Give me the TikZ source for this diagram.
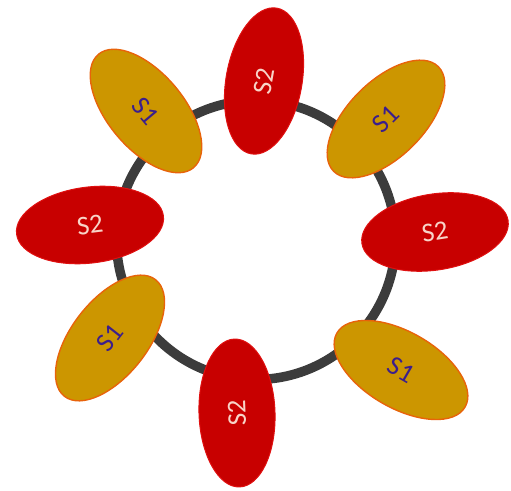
\documentclass[tikz,border=0pt]{standalone}
\usepackage{fontspec}
\setmainfont{Carlito}
\usetikzlibrary{shapes.geometric}
\definecolor{sonefill}{HTML}{CC9600}
\definecolor{sonedraw}{HTML}{E8630A}
\definecolor{sonetext}{HTML}{3B1E8C}
\definecolor{stwofill}{HTML}{C80000}
\definecolor{stwodraw}{HTML}{E01010}
\definecolor{stwotext}{HTML}{F8D4C8}
\definecolor{ringcol}{HTML}{3C3C3C}
\tikzset{
  blob/.style={ellipse, inner sep=0pt, minimum width=148pt, minimum height=76pt,
    font=\fontsize{27}{29}\selectfont},
  sone/.style={blob, fill=sonefill, draw=sonedraw, line width=1.4pt, text=sonetext},
  stwo/.style={blob, fill=stwofill, draw=stwodraw, line width=1pt, text=stwotext},
  ringstyle/.style={circle, draw=ringcol, line width=9.5pt, minimum size=279pt, inner sep=0pt}
}
\begin{document}
\begin{tikzpicture}[x=1pt,y=1pt]
\useasboundingbox (0,0) rectangle (511,490);
\node[ringstyle] (ring) at (256,250) {};
\node[sone, rotate=-50] (tl) at (146,379) {S1};
\node[stwo, rotate=80] (top) at (264,409) {S2};
\node[sone, rotate=45] (tr) at (386,371) {S1};
\node[stwo, rotate=7] (left) at (90,265) {S2};
\node[stwo, rotate=9] (right) at (435,258) {S2};
\node[sone, rotate=52] (bl) at (110,152) {S1};
\node[stwo, rotate=92] (bot) at (237,77) {S2};
\node[sone, rotate=-30] (br) at (401,120) {S1};
\end{tikzpicture}
\end{document}
